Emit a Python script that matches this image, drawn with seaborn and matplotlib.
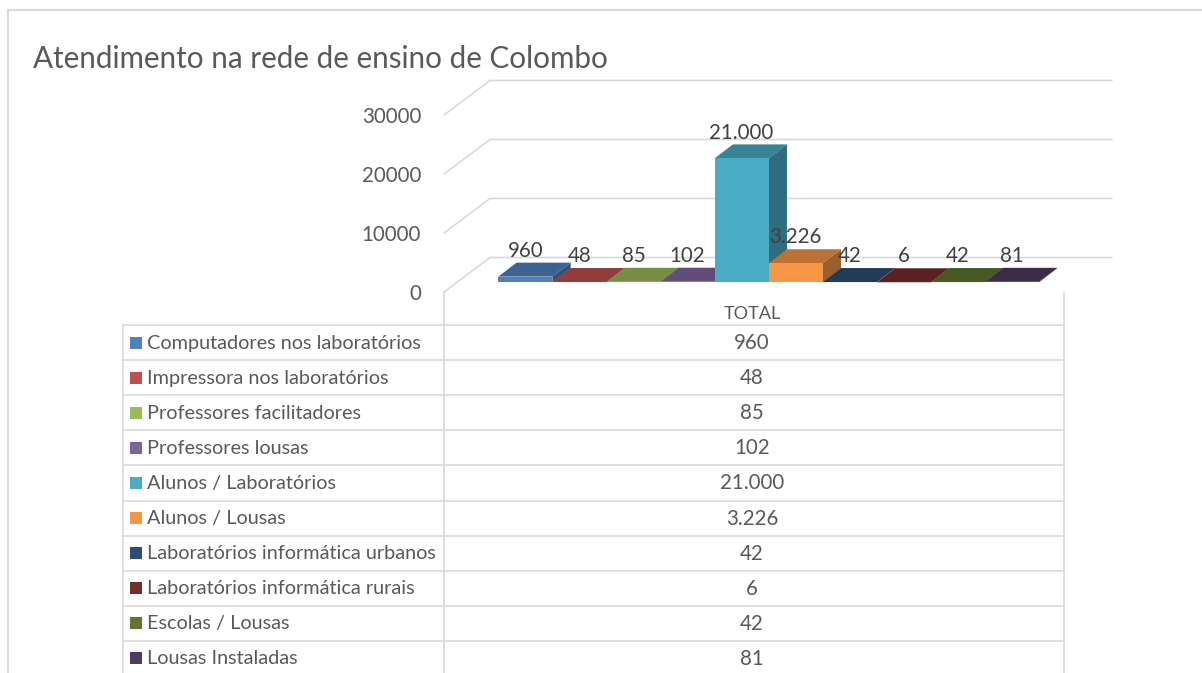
import matplotlib
matplotlib.use("Agg")
import matplotlib.pyplot as plt
import seaborn as sns
from matplotlib.colors import to_rgb
from matplotlib.patches import Polygon, Rectangle

# Dados do grafico
categorias = [
    "Computadores nos laboratórios",
    "Impressora nos laboratórios",
    "Professores facilitadores",
    "Professores lousas",
    "Alunos / Laboratórios",
    "Alunos / Lousas",
    "Laboratórios informática urbanos",
    "Laboratórios informática rurais",
    "Escolas / Lousas",
    "Lousas Instaladas",
]
valores = [960, 48, 85, 102, 21000, 3226, 42, 6, 42, 81]
cores = ["#4F81BD", "#C0504D", "#9BBB59", "#8064A2", "#4BACC6",
         "#F79646", "#2C4D75", "#772C2A", "#5F7530", "#4D3B62"]
ticks_y = [0, 10000, 20000, 30000]
titulo = "Atendimento na rede de ensino de Colombo"
coluna = "TOTAL"

L, A = 1202, 673
COR_LINHA = "#D9D9D9"
COR_TEXTO = "#595959"
COR_ROTULO = "#404040"
LW = 1.2
FS = 14.3
FS_NUM = 14.8

sns.set_theme(style="white")
plt.rcParams["font.family"] = ["Lato", "DejaVu Sans"]


def eixo_px(fig, esq, topo, dir, base, **kw):
    return fig.add_axes([esq / L, 1 - base / A, (dir - esq) / L, (base - topo) / A], **kw)


def escurece(cor, f):
    return tuple(c * f for c in to_rgb(cor))


fig = plt.figure(figsize=(L / 100, A / 100), dpi=100, facecolor="white")

# Parede do grafico, com a escala do eixo y
parede = eixo_px(fig, 444, 115, 1112, 292, facecolor="none")
parede.set_xlim(444, 1112)
parede.set_ylim(0, 30000)
parede.set_xticks([])
parede.set_yticks(ticks_y)
parede.set_yticklabels([str(t) for t in ticks_y], fontsize=FS_NUM, color=COR_TEXTO)
parede.tick_params(axis="y", length=0, pad=16.5)
sns.despine(ax=parede, left=True, bottom=True)
recuo = 34.5 / 177 * 30000
for t in ticks_y:
    parede.plot([444, 490, 1112], [t, t + recuo, t + recuo], color=COR_LINHA,
                lw=LW, clip_on=False, solid_joinstyle="miter")

# Colunas
ax = eixo_px(fig, 498.3, 105.3, 1039, 282.3, facecolor="none")
sns.barplot(x=categorias, y=valores, hue=categorias, palette=cores, width=1,
            saturation=1, legend=False, ax=ax)
ax.set_xlim(-0.5, 9.5)
ax.set_ylim(0, 30000)
ax.axis("off")

prof_x = 18.3 / 54.07
prof_y = 14 / 177 * 30000
barras = sorted(ax.patches, key=lambda b: b.get_x())
for i, (b, cor, v) in enumerate(zip(barras, cores, valores)):
    x0, x1, h = b.get_x(), b.get_x() + b.get_width(), b.get_height()
    z = 3 + i
    b.set_zorder(z + 0.2)
    b.set_linewidth(0)
    ax.add_patch(Polygon([(x0, h), (x1, h), (x1 + prof_x, h + prof_y), (x0 + prof_x, h + prof_y)],
                         closed=True, fc=escurece(cor, 0.76), ec="none", zorder=z, clip_on=False))
    ax.add_patch(Polygon([(x1, 0), (x1 + prof_x, prof_y), (x1 + prof_x, h + prof_y), (x1, h)],
                         closed=True, fc=escurece(cor, 0.63), ec="none", zorder=z + 0.1, clip_on=False))
    ax.annotate(f"{v:,}".replace(",", "."), (x0 + b.get_width() / 2, h), xytext=(0, 18.6),
                textcoords="offset points", ha="center", va="center", fontsize=FS_NUM,
                color=COR_ROTULO, zorder=30, annotation_clip=False)

# Moldura e tabela de dados
tab = eixo_px(fig, 0, 0, L, A, facecolor="none")
tab.set_xlim(0, L)
tab.set_ylim(A, 0)
tab.axis("off")
tab.plot([8, 8], [10, A], color=COR_LINHA, lw=1.5, clip_on=False)
tab.plot([8, L], [10, 10], color=COR_LINHA, lw=1.5, clip_on=False)
tab.text(33, 58.5, titulo, fontsize=21.35, color=COR_TEXTO, ha="left", va="center")
tab.text(752, 314, coluna, fontsize=13.1, color=COR_TEXTO, ha="center", va="center")

tab.plot([444, 444], [292, A], color=COR_LINHA, lw=LW)
tab.plot([1064, 1064], [292, A], color=COR_LINHA, lw=LW)
tab.plot([123, 123], [325, A], color=COR_LINHA, lw=LW)
passo = 35.1
for i, (cat, cor, v) in enumerate(zip(categorias, cores, valores)):
    y = 325 + i * passo
    tab.plot([123, 1064], [y, y], color=COR_LINHA, lw=LW)
    yc = y + passo / 2
    tab.add_patch(Rectangle((130, yc - 6), 12, 12, fc=cor, ec="none"))
    tab.text(147, yc + 0.5, cat, fontsize=FS, color=COR_TEXTO, ha="left", va="center")
    tab.text(752, yc + 0.5, f"{v:,}".replace(",", "."), fontsize=FS_NUM, color=COR_TEXTO, ha="center", va="center")

fig.savefig("out.png", dpi=100)
